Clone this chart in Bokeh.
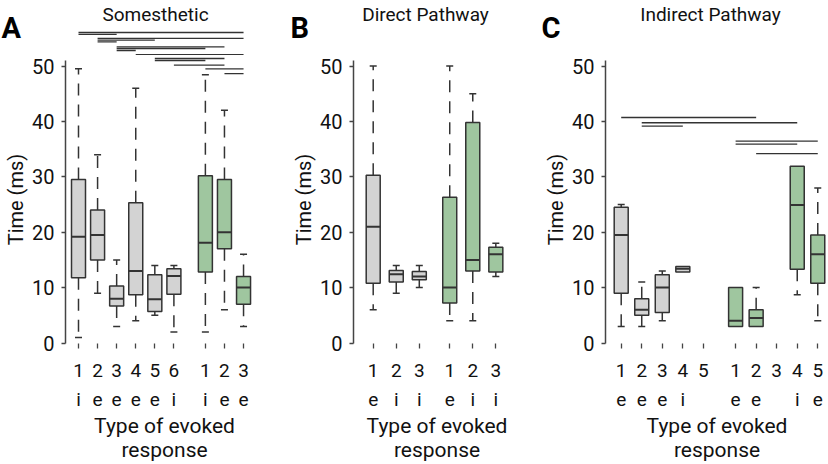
import math
from bokeh.plotting import figure
from bokeh.models import FixedTicker, Label, Range1d
from bokeh.layouts import row, column
from bokeh.embed import file_html
from bokeh.resources import INLINE

NAN = float("nan")

# ---------------- Panel A : Somesthetic ----------------
a_num = ["1", "2", "3", "4", "5", "6", "1", "2", "3"]
a_type = ["i", "e", "e", "e", "e", "i", "i", "e", "e"]
a_group = ["gray"] * 6 + ["green"] * 3
a_low = [1.0, 9.0, 3.0, 4.0, 5.0, 2.0, 2.0, 6.0, 3.0]
a_q1 = [11.8, 15.0, 6.7, 8.7, 5.7, 8.8, 12.8, 17.0, 7.0]
a_med = [19.2, 19.5, 8.0, 13.0, 7.9, 12.1, 18.1, 20.0, 10.0]
a_q3 = [29.5, 24.0, 10.3, 25.3, 12.3, 13.4, 30.2, 29.5, 12.0]
a_high = [49.5, 34.0, 15.0, 46.0, 14.0, 14.0, 48.4, 42.0, 16.0]
a_sig_from = [0, 0, 1, 1, 1, 2, 2, 2, 3, 4, 4, 5, 6, 7]
a_sig_to = [8, 2, 8, 4, 2, 7, 6, 3, 8, 7, 6, 7, 8, 8]
a_sig_y = [56.05, 55.7, 54.97, 54.66, 54.35, 53.45, 53.16, 52.8, 52.07, 51.35, 50.99, 50.14, 49.47, 48.63]

# ---------------- Panel B : Direct Pathway ----------------
b_num = ["1", "2", "3", "1", "2", "3"]
b_type = ["e", "i", "i", "e", "i", "i"]
b_group = ["gray"] * 3 + ["green"] * 3
b_low = [6.0, 9.0, 10.0, 4.0, 4.0, 12.0]
b_q1 = [10.8, 11.0, 11.4, 7.2, 13.0, 12.8]
b_med = [21.0, 12.4, 12.0, 10.0, 15.0, 16.0]
b_q3 = [30.3, 13.1, 12.9, 26.3, 39.8, 17.3]
b_high = [50.0, 14.0, 14.0, 50.0, 45.0, 18.0]
b_sig_from = []
b_sig_to = []
b_sig_y = []

# ---------------- Panel C : Indirect Pathway ----------------
c_num = ["1", "2", "3", "4", "5", "1", "2", "3", "4", "5"]
c_type = ["e", "e", "e", "i", "", "e", "e", "", "i", "e"]
c_group = ["gray"] * 5 + ["green"] * 5
c_low = [3.0, 3.0, 4.0, 12.8, NAN, 3.0, 3.0, NAN, 8.7, 4.0]
c_q1 = [9.0, 5.0, 5.5, 12.8, NAN, 3.0, 3.0, NAN, 13.3, 10.8]
c_med = [19.5, 6.0, 10.0, 13.4, NAN, 4.0, 4.5, NAN, 24.9, 16.0]
c_q3 = [24.5, 8.0, 12.3, 13.8, NAN, 10.0, 6.0, NAN, 31.9, 19.5]
c_high = [25.0, 11.0, 13.0, 13.8, NAN, 10.0, 10.0, NAN, 31.9, 28.0]
c_sig_from = [0, 1, 1, 5, 5, 6]
c_sig_to = [6, 8, 3, 9, 8, 9]
c_sig_y = [40.7, 39.76, 39.16, 36.45, 35.9, 34.2]

y_ticks = [0, 10, 20, 30, 40, 50]

# ---------------- layout constants ----------------
FILL = {"gray": "#d3d3d3", "green": "#9fc69f"}
EDGE = "#333333"
SIG = "#333333"
TXT = "#111111"
FONT = "Roboto"
ZERO_PX = 342.5          # page y of value 0
PX_PER_Y = 5.54
SPLIT_PX = 55            # page y where top strip ends / data frame begins
AXIS_TOP_PX = 60         # page y where the y-axis line ends
BOTTOM_PX = 343          # page y of data-frame bottom
TOTAL_H = 464
BOX_PX = 14
DASH = "12 9"


def py2y(page_y):
    return (ZERO_PX - page_y) / PX_PER_Y


Y_SPLIT = py2y(SPLIT_PX)
Y_BOT = py2y(BOTTOM_PX)
Y_TOP = py2y(0)


def panel(num, typ, group, low, q1, med, q3, high, sf, st, sy, gap,
          title, letter, page_left, bl, fw, br, first_px, pxu,
          title_cx, letter_x):
    pos = []
    for i, g in enumerate(group):
        if i == 0:
            pos.append(1.0)
        elif g != group[i - 1]:
            pos.append(round(pos[-1] + gap, 4))
        else:
            pos.append(round(pos[-1] + 1.0, 4))
    x0 = pos[0] - first_px / pxu
    x1 = x0 + fw / pxu
    frame_left_page = page_left + bl
    total_w = bl + fw + br

    def px2x(page_x):
        return x0 + (page_x - frame_left_page) / pxu

    # ---- top strip: panel letter, title, upper significance bars
    top = figure(frame_width=total_w, frame_height=SPLIT_PX,
                 x_range=Range1d(px2x(page_left), px2x(page_left + total_w)),
                 y_range=Range1d(Y_SPLIT, Y_TOP),
                 x_axis_location=None, y_axis_location=None,
                 output_backend="svg", toolbar_location=None,
                 min_border_left=0, min_border_right=0,
                 min_border_top=0, min_border_bottom=0)
    top.frame_align = False
    top.outline_line_color = None
    top.grid.visible = False

    # ---- main data frame
    p = figure(frame_width=fw, frame_height=BOTTOM_PX - SPLIT_PX,
               x_range=Range1d(x0, x1), y_range=Range1d(Y_BOT, Y_SPLIT),
               output_backend="svg", toolbar_location=None,
               min_border_left=bl, min_border_right=br,
               min_border_top=0, min_border_bottom=TOTAL_H - BOTTOM_PX)
    p.frame_align = False
    p.outline_line_color = None
    p.grid.visible = False

    bw = BOX_PX / pxu
    ok = [i for i in range(len(med)) if not math.isnan(med[i])]
    xs = [pos[i] for i in ok]
    p.vbar(x=xs, width=bw, top=[q3[i] for i in ok], bottom=[q1[i] for i in ok],
           fill_color=[FILL[group[i]] for i in ok], line_color=EDGE, line_width=1.5)
    p.segment(x0=[x - bw / 2 for x in xs], y0=[med[i] for i in ok],
              x1=[x + bw / 2 for x in xs], y1=[med[i] for i in ok],
              line_color=EDGE, line_width=2)
    up = [i for i in ok if high[i] > q3[i] + 0.05]
    dn = [i for i in ok if low[i] < q1[i] - 0.05]
    p.segment(x0=[pos[i] for i in up], y0=[q3[i] for i in up],
              x1=[pos[i] for i in up], y1=[high[i] for i in up],
              line_color=EDGE, line_width=1.5, line_dash=DASH)
    p.segment(x0=[pos[i] - bw / 4 for i in up], y0=[high[i] for i in up],
              x1=[pos[i] + bw / 4 for i in up], y1=[high[i] for i in up],
              line_color=EDGE, line_width=1.5)
    p.segment(x0=[pos[i] for i in dn], y0=[q1[i] for i in dn],
              x1=[pos[i] for i in dn], y1=[low[i] for i in dn],
              line_color=EDGE, line_width=1.5, line_dash=DASH)
    p.segment(x0=[pos[i] - bw / 4 for i in dn], y0=[low[i] for i in dn],
              x1=[pos[i] + bw / 4 for i in dn], y1=[low[i] for i in dn],
              line_color=EDGE, line_width=1.5)

    # significance bars (split between the strip and the data frame)
    for fig, keep in ((top, lambda v: v > Y_SPLIT), (p, lambda v: v <= Y_SPLIT)):
        idx = [k for k in range(len(sy)) if keep(sy[k])]
        if idx:
            fig.segment(x0=[pos[sf[k]] for k in idx], y0=[sy[k] for k in idx],
                        x1=[pos[st[k]] for k in idx], y1=[sy[k] for k in idx],
                        line_color=SIG, line_width=1.3)

    # x axis
    xa = p.xaxis[0]
    xa.ticker = FixedTicker(ticks=pos)
    xa.major_label_overrides = {pos[i]: (num[i] + "\n" + typ[i]) if typ[i] else num[i]
                                for i in range(len(pos))}
    xa.axis_line_color = None
    xa.major_tick_in = 0
    xa.major_tick_out = 5
    xa.major_tick_line_color = "#444444"
    xa.major_tick_line_width = 1.3
    xa.minor_tick_line_color = None
    xa.major_label_text_font = FONT
    xa.major_label_text_font_size = "19px"
    xa.major_label_text_line_height = 1.3
    xa.major_label_text_color = TXT
    xa.major_label_standoff = 10
    xa.axis_label = "Type of evoked\nresponse"
    xa.axis_label_text_font = FONT
    xa.axis_label_text_font_size = "21px"
    xa.axis_label_text_line_height = 1.0
    xa.axis_label_text_font_style = "normal"
    xa.axis_label_text_color = TXT
    xa.axis_label_standoff = 0

    # y axis
    ya = p.yaxis[0]
    ya.ticker = FixedTicker(ticks=y_ticks)
    ya.bounds = (0, py2y(AXIS_TOP_PX))
    ya.axis_line_color = "#444444"
    ya.axis_line_width = 1.5
    ya.major_tick_in = 0
    ya.major_tick_out = 4
    ya.major_tick_line_color = "#444444"
    ya.major_tick_line_width = 1.5
    ya.minor_tick_line_color = None
    ya.major_label_text_font = FONT
    ya.major_label_text_font_size = "20px"
    ya.major_label_text_color = TXT
    ya.major_label_standoff = 7
    ya.axis_label = "Time (ms)"
    ya.axis_label_text_font = FONT
    ya.axis_label_text_font_size = "20px"
    ya.axis_label_text_font_style = "normal"
    ya.axis_label_text_color = TXT
    ya.axis_label_standoff = 1

    top.add_layout(Label(x=px2x(title_cx), y=py2y(14), text=title, text_align="center",
                         text_baseline="middle", text_font=FONT, text_font_size="19px",
                         text_color=TXT))
    top.add_layout(Label(x=px2x(letter_x), y=py2y(27), text=letter, text_align="left",
                         text_baseline="alphabetic", text_font=FONT, text_font_size="29px",
                         text_font_style="bold", text_color="#000000"))
    return column(top, p, spacing=0)


pa = panel(a_num, a_type, a_group, a_low, a_q1, a_med, a_q3, a_high,
           a_sig_from, a_sig_to, a_sig_y, 1.65, "Somesthetic", "A",
           0, 65, 198, 7, 13, 19.08, 155, 1)
pb = panel(b_num, b_type, b_group, b_low, b_q1, b_med, b_q3, b_high,
           b_sig_from, b_sig_to, b_sig_y, 1.32, "Direct Pathway", "B",
           270, 83, 167, 20, 19.7, 23.05, 425, 290)
pc = panel(c_num, c_type, c_group, c_low, c_q1, c_med, c_q3, c_high,
           c_sig_from, c_sig_to, c_sig_y, 1.57, "Indirect Pathway", "C",
           540, 65, 223, 0, 15.7, 20.54, 710, 541)

layout = row(pa, pb, pc, spacing=0)
open("out.html", "w").write(file_html(layout, INLINE))
